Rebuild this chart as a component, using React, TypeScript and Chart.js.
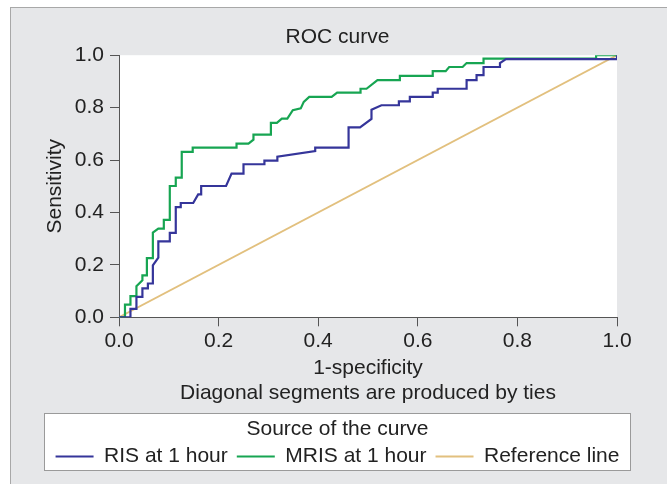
import React, { useEffect, useRef } from 'react';
import { Chart, registerables } from 'chart.js';

Chart.register(...registerables);

const FONT = "'Liberation Sans', Arial, Helvetica, sans-serif";

const chartTitle = 'ROC curve';
const xTitleLines = ['1-specificity', 'Diagonal segments are produced by ties'];
const yTitle = 'Sensitivity';
const legendTitle = 'Source of the curve';
const seriesNames = ['RIS at 1 hour', 'MRIS at 1 hour', 'Reference line'];
const xTickLabels = ['0.0', '0.2', '0.4', '0.6', '0.8', '1.0'];
const yTickLabels = ['0.0', '0.2', '0.4', '0.6', '0.8', '1.0'];

const risX = [0, 0.023, 0.023, 0.035, 0.035, 0.047, 0.047, 0.058, 0.058, 0.068, 0.068, 0.079, 0.079, 0.102, 0.102, 0.114, 0.114, 0.124, 0.124, 0.149, 0.159, 0.165, 0.165, 0.215, 0.226, 0.25, 0.25, 0.292, 0.292, 0.318, 0.318, 0.394, 0.394, 0.461, 0.461, 0.484, 0.507, 0.507, 0.527, 0.562, 0.562, 0.584, 0.584, 0.63, 0.63, 0.64, 0.64, 0.698, 0.698, 0.718, 0.718, 0.732, 0.732, 0.765, 0.765, 0.777, 1.0, 1.0];
const risY = [0, 0, 0.032, 0.032, 0.078, 0.078, 0.11, 0.11, 0.129, 0.129, 0.198, 0.228, 0.29, 0.29, 0.322, 0.322, 0.42, 0.42, 0.436, 0.436, 0.469, 0.469, 0.501, 0.501, 0.548, 0.548, 0.584, 0.584, 0.598, 0.598, 0.613, 0.634, 0.647, 0.647, 0.725, 0.725, 0.757, 0.792, 0.809, 0.809, 0.824, 0.824, 0.841, 0.841, 0.857, 0.857, 0.872, 0.872, 0.905, 0.905, 0.924, 0.924, 0.955, 0.955, 0.97, 0.985, 0.985, 1.0];

const mrisX = [0, 0.012, 0.012, 0.023, 0.023, 0.035, 0.035, 0.047, 0.047, 0.056, 0.056, 0.068, 0.068, 0.079, 0.09, 0.09, 0.102, 0.102, 0.114, 0.114, 0.126, 0.126, 0.148, 0.148, 0.236, 0.236, 0.26, 0.27, 0.27, 0.305, 0.305, 0.317, 0.327, 0.338, 0.349, 0.365, 0.371, 0.382, 0.427, 0.438, 0.485, 0.485, 0.497, 0.519, 0.564, 0.564, 0.63, 0.63, 0.656, 0.663, 0.69, 0.698, 0.732, 0.732, 0.958, 0.958, 1.0];
const mrisY = [0, 0, 0.048, 0.048, 0.081, 0.081, 0.119, 0.141, 0.16, 0.16, 0.226, 0.226, 0.323, 0.338, 0.338, 0.372, 0.372, 0.501, 0.501, 0.533, 0.533, 0.631, 0.631, 0.647, 0.647, 0.663, 0.663, 0.678, 0.697, 0.697, 0.742, 0.742, 0.758, 0.758, 0.79, 0.797, 0.822, 0.841, 0.841, 0.857, 0.857, 0.872, 0.872, 0.905, 0.905, 0.921, 0.921, 0.939, 0.939, 0.955, 0.955, 0.97, 0.97, 0.987, 0.987, 1.0, 1.0];

const refX = [0, 1];
const refY = [0, 1];

const seriesColors = ['#35359a', '#17a552', '#e2c07e'];
const seriesWidths = [2.2, 2.2, 1.8];

export default function App() {
  const ref = useRef<HTMLCanvasElement>(null);

  useEffect(() => {
    if (!ref.current) return;
    const toPts = (xs: number[], ys: number[]) => xs.map((x, i) => ({ x, y: ys[i] }));

    const framePlugin = {
      id: 'frame',
      beforeDraw(chart: any) {
        const ctx = chart.ctx as CanvasRenderingContext2D;
        ctx.save();
        ctx.fillStyle = '#ffffff';
        ctx.fillRect(0, 0, chart.width, chart.height);
        ctx.fillStyle = '#e6e7e9';
        ctx.fillRect(10, 7, chart.width + 20, chart.height + 20);
        ctx.strokeStyle = '#a8a8a8';
        ctx.lineWidth = 1;
        ctx.strokeRect(10.5, 7.5, chart.width + 20, chart.height + 20);
        const a = chart.chartArea;
        ctx.fillStyle = '#ffffff';
        ctx.fillRect(a.left, a.top, a.right - a.left, a.bottom - a.top);
        const lg = chart.legend;
        if (lg) {
          ctx.fillStyle = '#ffffff';
          ctx.fillRect(lg.left, lg.top, lg.width, 57);
          ctx.strokeStyle = '#9a9a9a';
          ctx.strokeRect(Math.round(lg.left) + 0.5, Math.round(lg.top) + 0.5, Math.round(lg.width) - 1, 57);
        }
        ctx.restore();
      },
    };

    const chart = new Chart(ref.current, {
      type: 'scatter',
      data: {
        datasets: [
          { label: seriesNames[0], data: toPts(risX, risY) },
          { label: seriesNames[1], data: toPts(mrisX, mrisY) },
          { label: seriesNames[2], data: toPts(refX, refY) },
        ].map((d, i) => ({
          ...d,
          showLine: true,
          borderColor: seriesColors[i],
          backgroundColor: seriesColors[i],
          borderWidth: seriesWidths[i],
          pointRadius: 0,
          pointHoverRadius: 0,
          tension: 0,
          fill: false,
        })),
      },
      options: {
        responsive: false,
        animation: false,
        devicePixelRatio: 1,
        font: { family: FONT, size: 21 },
        color: '#222222',
        layout: { padding: { left: 44, right: 36, top: 7, bottom: 7 } },
        plugins: {
          tooltip: { enabled: false },
          title: {
            display: true,
            text: chartTitle,
            color: '#222222',
            font: { family: FONT, size: 21, weight: 'normal' },
            padding: { top: 18, bottom: 5 },
          },
          legend: {
            display: true,
            position: 'bottom',
            align: 'center',
            title: {
              display: true,
              text: legendTitle,
              color: '#222222',
              font: { family: FONT, size: 21 },
              padding: { top: 5.5, bottom: -7 },
            },
            labels: {
              color: '#222222',
              font: { family: FONT, size: 21 },
              usePointStyle: true,
              pointStyle: 'line',
              pointStyleWidth: 38,
              boxHeight: 21,
              padding: 9,
            },
          },
        },
        scales: {
          x: {
            type: 'linear',
            min: 0,
            max: 1,
            afterFit(scale: any) { scale.height = 96; },
            ticks: {
              stepSize: 0.2,
              color: '#222222',
              font: { family: FONT, size: 21 },
              padding: 2,
              maxRotation: 0,
              callback: (_v: any, i: number) => xTickLabels[i],
            },
            grid: { drawOnChartArea: false, drawTicks: true, tickLength: 9, color: '#555555', lineWidth: 1 },
            border: { display: true, color: '#555555', width: 1 },
            title: {
              display: true,
              text: xTitleLines,
              color: '#222222',
              font: { family: FONT, size: 21, lineHeight: 1.2 },
              padding: { top: 0, bottom: 7.4 },
            },
          },
          y: {
            type: 'linear',
            min: 0,
            max: 1,
            afterFit(scale: any) { scale.width = 75; },
            ticks: {
              stepSize: 0.2,
              color: '#222222',
              font: { family: FONT, size: 21 },
              padding: 6,
              callback: (_v: any, i: number) => yTickLabels[i],
            },
            grid: { drawOnChartArea: false, drawTicks: true, tickLength: 9, color: '#555555', lineWidth: 1 },
            border: { display: true, color: '#555555', width: 1 },
            title: {
              display: true,
              text: yTitle,
              color: '#222222',
              font: { family: FONT, size: 21 },
              padding: { top: -1, bottom: 0 },
            },
          },
          yRightSpacer: {
            type: 'linear',
            position: 'right',
            min: 0,
            max: 1,
            afterFit(scale: any) { scale.width = 14; },
            ticks: { display: false },
            grid: { display: false },
            border: { display: false },
          },
        },
      },
      plugins: [framePlugin],
    } as any);

    return () => chart.destroy();
  }, []);

  return (
    <div style={{ position: 'absolute', left: 0, top: 0, width: 667, height: 484 }}>
      <canvas ref={ref} width={667} height={484} style={{ display: 'block' }} />
    </div>
  );
}
